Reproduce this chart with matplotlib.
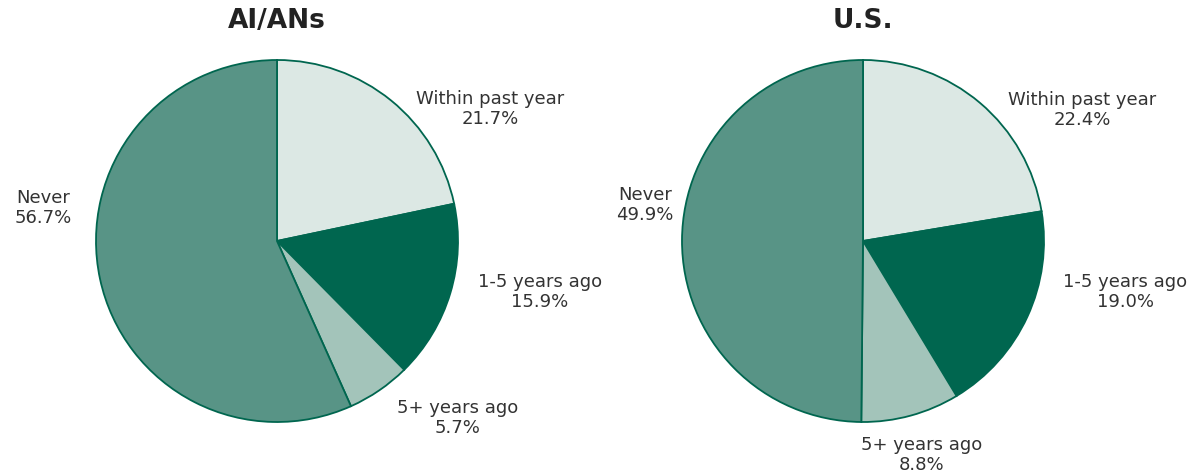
import matplotlib.pyplot as plt

categories = ["Within past year", "1-5 years ago", "5+ years ago", "Never"]
aian_values = [21.7, 15.9, 5.7, 56.7]
us_values = [22.4, 19.0, 8.8, 49.9]
titles = ["AI/ANs", "U.S."]

colors = ["#dce8e4", "#00664f", "#a3c4ba", "#589486"]
edge = "#00664f"

# label centres relative to pie centre, in radius units
aian_label_pos = [(1.177, 0.735), (1.453, -0.276), (1.0, -0.972), (-1.293, 0.188)]
us_label_pos = [(1.21, 0.729), (1.448, -0.276), (0.326, -1.177), (-1.204, 0.204)]

W, H = 1203, 477
fig = plt.figure(figsize=(W / 100, H / 100), dpi=100)

R = 181
centres = [(277, 242), (863, 242)]

for (cx, cy), vals, pos, title in zip(centres, [aian_values, us_values],
                                      [aian_label_pos, us_label_pos], titles):
    ax = fig.add_axes([(cx - R) / W, (H - cy - R) / H, 2 * R / W, 2 * R / H])
    ax.pie(vals, colors=colors, startangle=90, counterclock=False, radius=1,
           wedgeprops=dict(edgecolor=edge, linewidth=1.3))
    ax.set_xlim(-1, 1)
    ax.set_ylim(-1, 1)
    ax.set_aspect("auto")
    for cat, v, (dx, dy) in zip(categories, vals, pos):
        ax.text(dx, dy, f"{cat}\n{v:.1f}%", ha="center", va="center",
                multialignment="center", fontsize=13, color="#333333",
                linespacing=1.15, clip_on=False)
    fig.text(cx / W, 1 - 21 / H, title, ha="center", va="center",
             fontsize=19, fontweight="bold", color="#222222")

fig.savefig("out.png", dpi=100)
